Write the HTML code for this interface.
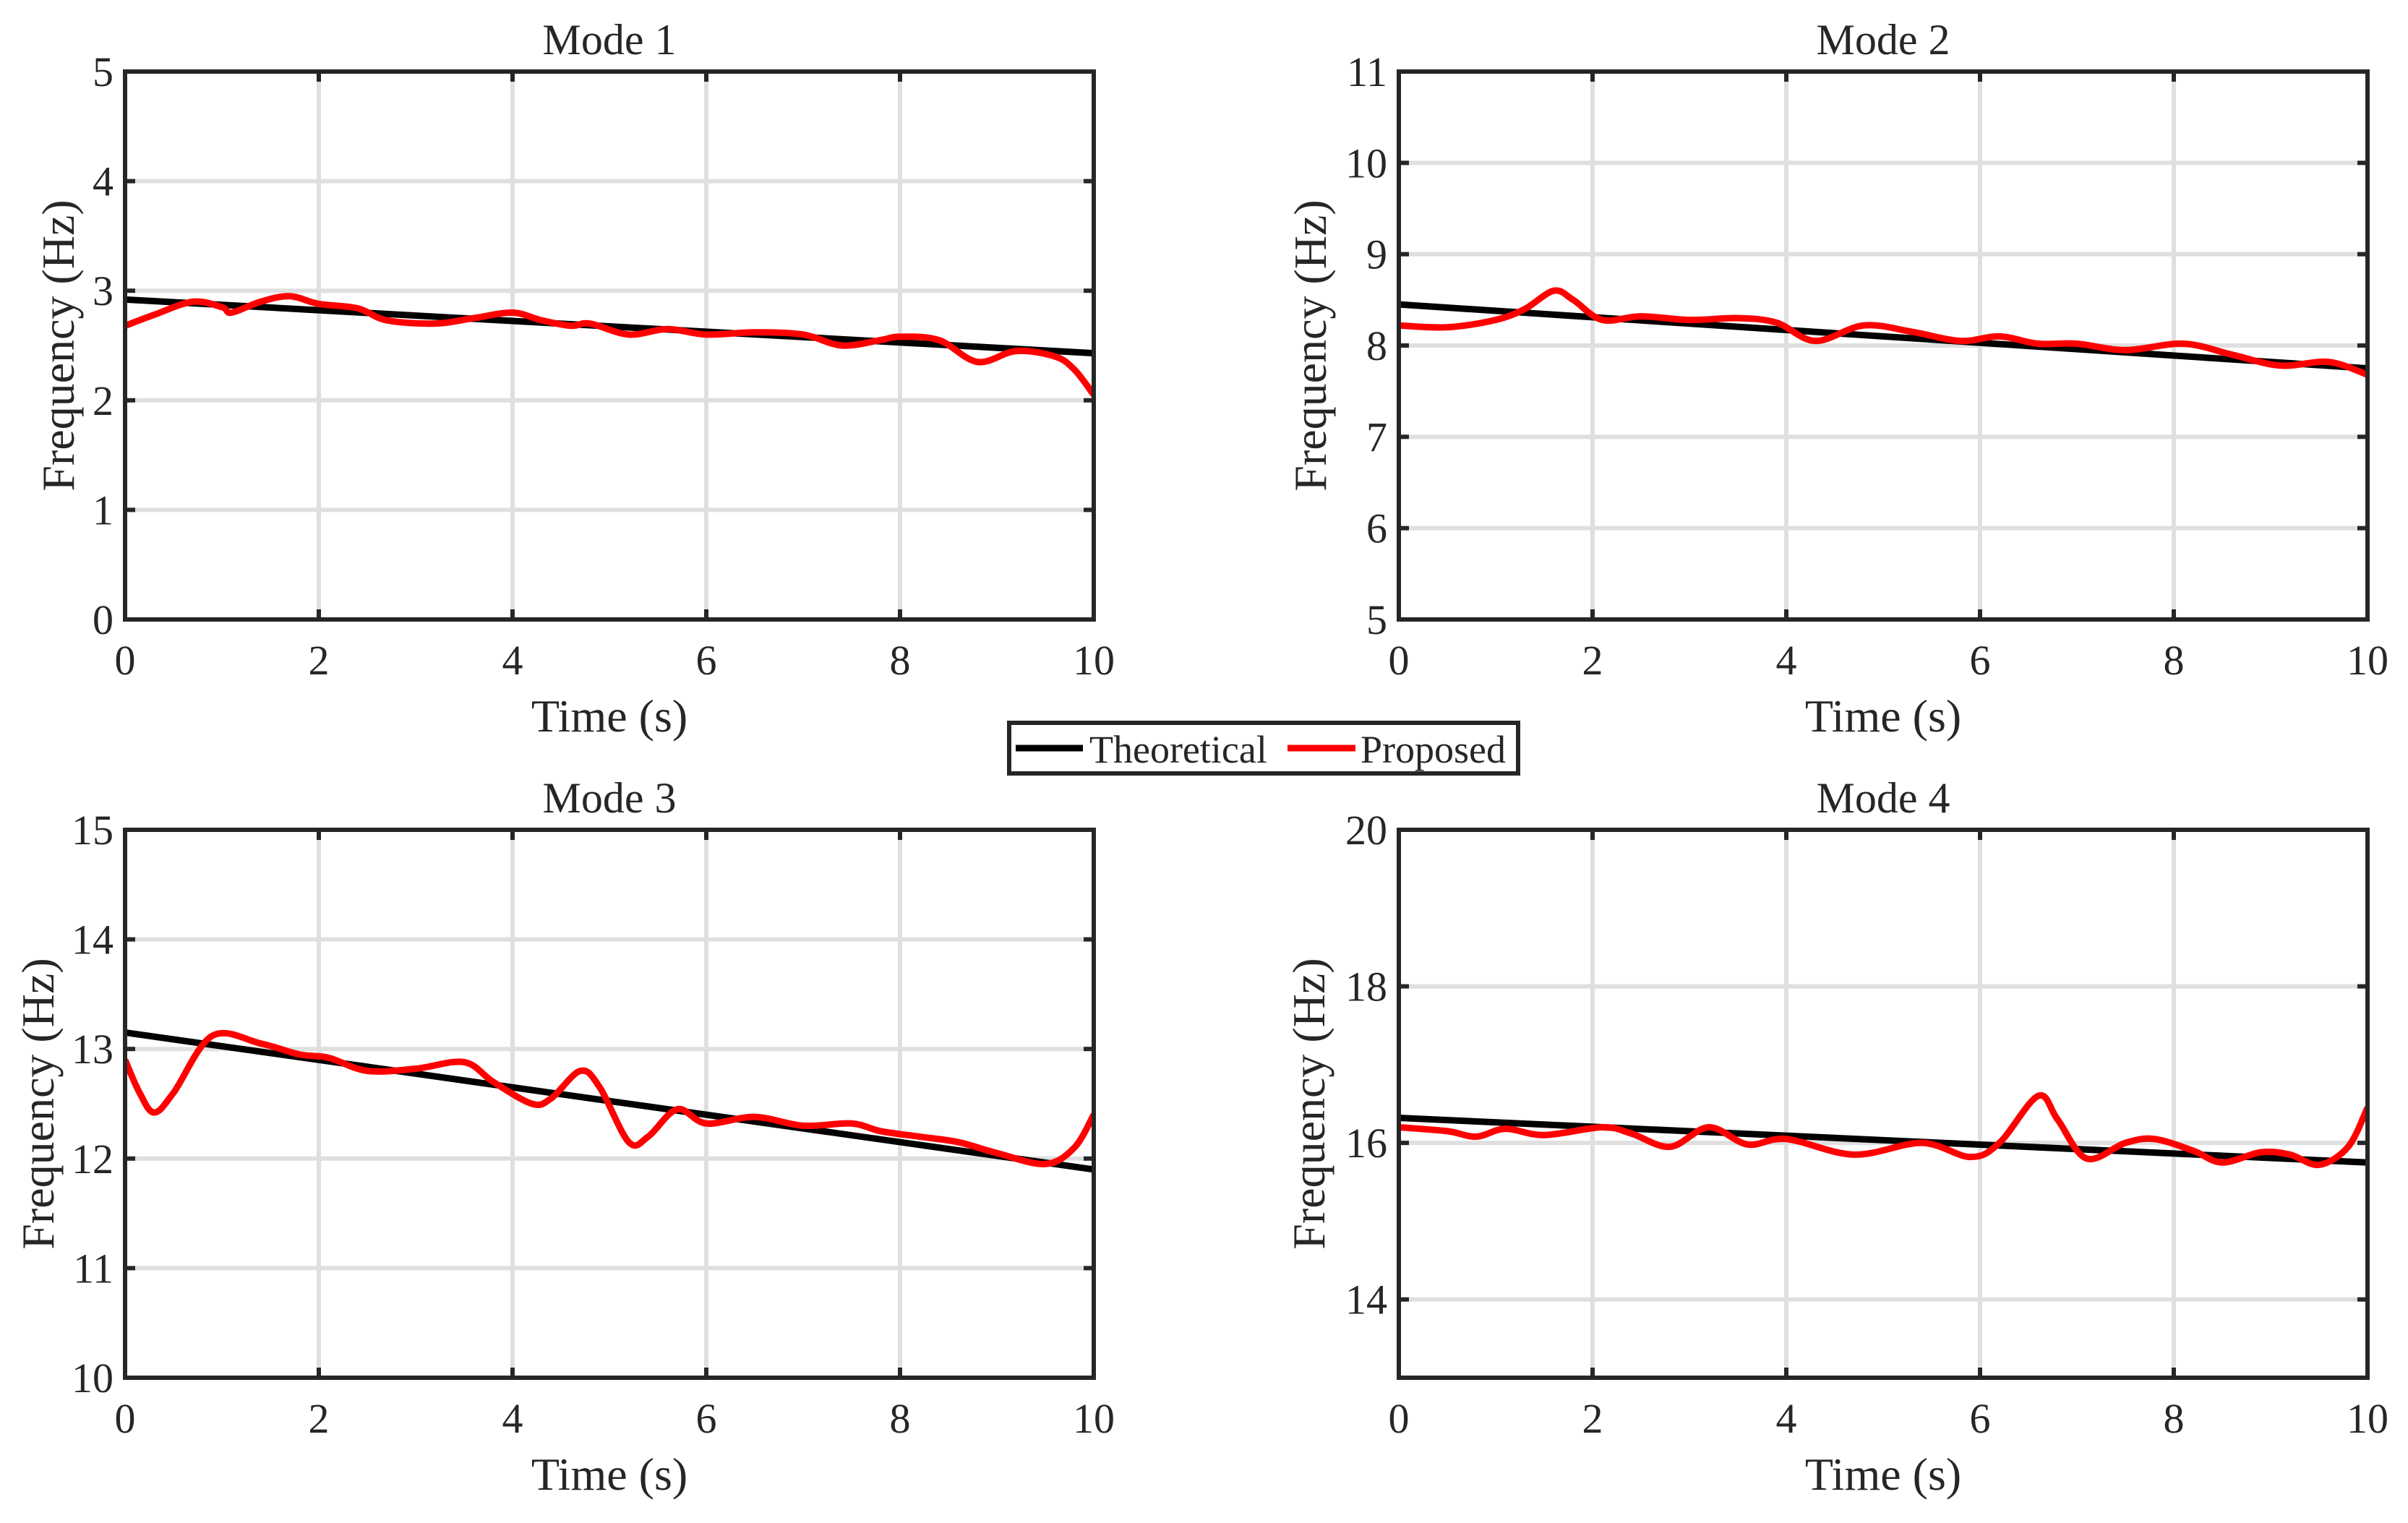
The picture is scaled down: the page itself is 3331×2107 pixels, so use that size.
<!DOCTYPE html>
<html><head><meta charset="utf-8"><style>
html,body{margin:0;padding:0;background:#fff}
svg text{font-family:"Liberation Serif",serif;fill:#262626}
</style></head><body>
<svg id="fig" width="3331" height="2102" viewBox="0 0 3331 2102" xmlns="http://www.w3.org/2000/svg"></svg>
<script>
const timeTicks=[0,2,4,6,8,10];
const m1T=[0,0.3,0.7,1.0,1.1,1.4,1.7,2.0,2.4,2.7,3.2,3.6,4.0,4.3,4.6,4.8,5.2,5.6,6.0,6.5,7.0,7.4,7.8,8.0,8.4,8.8,9.2,9.6,9.8,10];
const m1V=[2.68,2.78,2.9,2.85,2.8,2.9,2.95,2.88,2.84,2.73,2.70,2.75,2.8,2.73,2.68,2.70,2.60,2.65,2.60,2.62,2.60,2.50,2.55,2.58,2.55,2.35,2.45,2.40,2.28,2.05];
const m1Th=[2.92,2.43];
const m2T=[0,0.5,1.0,1.3,1.6,1.8,2.1,2.5,3.0,3.5,3.9,4.3,4.8,5.3,5.8,6.2,6.6,7.0,7.5,8.1,8.6,9.1,9.6,10];
const m2V=[8.22,8.20,8.28,8.4,8.6,8.5,8.28,8.32,8.28,8.3,8.25,8.05,8.22,8.15,8.05,8.1,8.02,8.02,7.95,8.02,7.9,7.78,7.82,7.68];
const m2Th=[8.45,7.75];
const m3T=[0,0.15,0.3,0.5,0.9,1.4,1.8,2.1,2.5,3.0,3.5,3.8,4.2,4.4,4.7,4.9,5.2,5.4,5.7,6.0,6.5,7.0,7.5,7.8,8.2,8.6,9.0,9.5,9.8,10];
const m3V=[12.9,12.6,12.42,12.6,13.12,13.05,12.95,12.92,12.8,12.82,12.88,12.7,12.5,12.55,12.8,12.65,12.15,12.2,12.45,12.32,12.38,12.3,12.32,12.25,12.2,12.15,12.05,11.95,12.1,12.4];
const m3Th=[13.15,11.9];
const m4T=[0,0.5,0.8,1.1,1.5,2.1,2.4,2.8,3.2,3.6,4.0,4.7,5.4,5.9,6.2,6.6,6.8,7.1,7.5,7.8,8.2,8.5,8.9,9.2,9.5,9.8,10];
const m4V=[16.2,16.15,16.08,16.18,16.1,16.2,16.12,15.95,16.2,15.98,16.05,15.85,16.0,15.82,16.0,16.6,16.3,15.8,16.0,16.05,15.9,15.75,15.88,15.85,15.72,15.95,16.45];
const m4Th=[16.32,15.75];
const yTicks1=[0,1,2,3,4,5], yTicks2=[5,6,7,8,9,10,11], yTicks3=[10,11,12,13,14,15], yTicks4=[14,16,18,20];

const NS="http://www.w3.org/2000/svg", svg=document.getElementById('fig');
function mk(tag,attrs,parent){const e=document.createElementNS(NS,tag);for(const k in attrs)e.setAttribute(k,attrs[k]);(parent||svg).appendChild(e);return e;}
function smooth(pts){let d=`M${pts[0][0]},${pts[0][1]}`;for(let i=0;i<pts.length-1;i++){const p0=pts[Math.max(0,i-1)],p1=pts[i],p2=pts[i+1],p3=pts[Math.min(pts.length-1,i+2)];
 const c1=[p1[0]+(p2[0]-p0[0])/6,p1[1]+(p2[1]-p0[1])/6],c2=[p2[0]-(p3[0]-p1[0])/6,p2[1]-(p3[1]-p1[1])/6];d+=`C${c1[0]},${c1[1]} ${c2[0]},${c2[1]} ${p2[0]},${p2[1]}`;}return d;}
function panel(id,L,R,T,B,ymin,ymax,yt,title,ts,vs,th,ylx){
 const g=mk('g',{});
 
 
 const sx=v=>L+(v-0)/10*(R-L), sy=v=>B-(v-ymin)/(ymax-ymin)*(B-T);
 timeTicks.forEach(t=>{const x=sx(t);
  if(t>0&&t<10){const gl=mk('line',{x1:x,x2:x,y1:T,y2:B,stroke:'#dfdfdf','stroke-width':6},g);}
  const tx=mk('text',{x:x,y:B+76,'font-size':58,'text-anchor':'middle'},g);tx.textContent=t;
  
  });
 yt.forEach(v=>{const y=sy(v);
  if(v>ymin&&v<ymax){const gl=mk('line',{x1:L,x2:R,y1:y,y2:y,stroke:'#dfdfdf','stroke-width':6},g);}
  const tx=mk('text',{x:L-16,y:y+20,'font-size':58,'text-anchor':'end'},g);tx.textContent=v;
  
  });
 timeTicks.forEach(t=>{const x=sx(t);mk('line',{x1:x,x2:x,y1:B,y2:B-14,stroke:'#262626','stroke-width':6},g);mk('line',{x1:x,x2:x,y1:T,y2:T+14,stroke:'#262626','stroke-width':6},g);});
 yt.forEach(v=>{const y=sy(v);mk('line',{x1:L,x2:L+14,y1:y,y2:y,stroke:'#262626','stroke-width':6},g);mk('line',{x1:R,x2:R-14,y1:y,y2:y,stroke:'#262626','stroke-width':6},g);});
 const cp='clip-'+id;const c=mk('clipPath',{id:cp},g);mk('rect',{x:L,y:T-4,width:R-L,height:B-T+8},c);
 const thl=mk('line',{x1:sx(0),y1:sy(th[0]),x2:sx(10),y2:sy(th[1]),stroke:'#000','stroke-width':9},g);
 
 
 const pts=ts.map((t,i)=>[sx(t),sy(vs[i])]);
 const pl=mk('path',{d:smooth(pts),fill:'none',stroke:'#ff0000','stroke-width':9,'stroke-linejoin':'round','clip-path':`url(#${cp})`},g);
 
 
 const fr=mk('rect',{x:L,y:T,width:R-L,height:B-T,fill:'none',stroke:'#262626','stroke-width':6},g);
 
 
 const tt=mk('text',{x:(L+R)/2,y:T-24,'font-size':60,'text-anchor':'middle',fill:'#000'},g);tt.textContent=title;
 
 
 const xl=mk('text',{x:(L+R)/2,y:B+155,'font-size':64,'text-anchor':'middle'},g);xl.textContent='Time (s)';
 
 
 const yl=mk('text',{x:0,y:0,'font-size':64,'text-anchor':'middle',transform:`translate(${ylx},${(T+B)/2}) rotate(-90)`},g);yl.textContent='Frequency (Hz)';
 
 
}
panel('mode1-panel',173,1513,99,857,0,5,yTicks1,'Mode 1',m1T,m1V,m1Th,102);
panel('mode2-panel',1935,3275,99,857,5,11,yTicks2,'Mode 2',m2T,m2V,m2Th,1834);
panel('mode3-panel',173,1513,1148,1906,10,15,yTicks3,'Mode 3',m3T,m3V,m3Th,74);
panel('mode4-panel',1935,3275,1148,1906,13,20,yTicks4,'Mode 4',m4T,m4V,m4Th,1832);
const lg=mk('g',{});


mk('rect',{x:1396,y:1000,width:704,height:70,fill:'#fff',stroke:'#262626','stroke-width':6},lg);
mk('line',{x1:1405,x2:1498,y1:1035,y2:1035,stroke:'#000','stroke-width':9},lg);
const l1=mk('text',{x:1507,y:1055,'font-size':54,fill:'#000'},lg);l1.textContent='Theoretical';


mk('line',{x1:1781,x2:1875,y1:1035,y2:1035,stroke:'#ff0000','stroke-width':9},lg);
const l2=mk('text',{x:1882,y:1055,'font-size':54,fill:'#000'},lg);l2.textContent='Proposed';


</script>
</body></html>
